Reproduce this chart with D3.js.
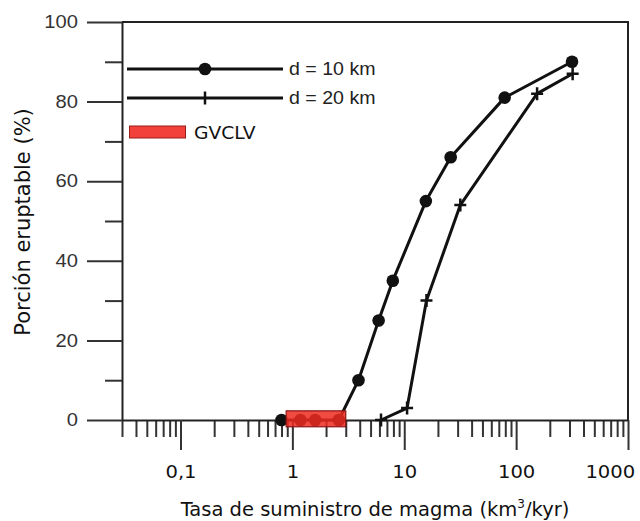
<!DOCTYPE html>
<html>
<head>
<meta charset="utf-8">
<script src="https://cdn.jsdelivr.net/npm/d3@7/dist/d3.min.js"></script>
<style>
  html, body { margin: 0; padding: 0; background: #fff; }
  svg { display: block; }
</style>
</head>
<body>
<svg id="chart" width="640" height="521"></svg>
<script>
// Eruptable fraction vs. magma supply rate, for two intrusion depths
const rate10 = [0.8, 1.18, 1.6, 2.6, 3.9, 5.9, 7.9, 15.6, 26, 79, 316];
const pct10  = [0, 0, 0, 0, 10, 25, 35, 55, 66, 81, 90];
const rate20 = [6.2, 10.6, 15.8, 31.7, 154, 320];
const pct20  = [0, 3, 30, 54, 82, 87];

// GVCLV supply-rate range (x) and its band height (y)
const gvclvRate = [0.88, 3.0];
const gvclvPct  = [-1.7, 2.3];

const xMajorTicks = [0.1, 1, 10, 100, 1000];
const xMajorLabels = ["0,1", "1", "10", "100", "1000"];
const yMajorTicks = [0, 20, 40, 60, 80, 100];
const yMinorTicks = [10, 30, 50, 70, 90];
const legendLabels = ["d = 10 km", "d = 20 km", "GVCLV"];

const svg = d3.select("#chart");
const x = d3.scaleLog().domain([0.03, 1000]).range([122, 628]);
const y = d3.scaleLinear().domain([0, 100]).range([420, 22]);

const sansFont = "'DejaVu Sans', sans-serif";
const helvFont = "'Liberation Sans', Arial, sans-serif";
const wide = 1.12; // slightly widened lettering

// minor log ticks: 2..9 of each decade, plus the left edge
const xMinorTicks = [0.03];
[0.01, 0.1, 1, 10, 100].forEach(d => {
  for (let k = 2; k <= 9; k++) {
    const v = d * k;
    if (v > 0.03 && v < 1000) xMinorTicks.push(v);
  }
});

// x axis: minor ticks
svg.append("g")
  .attr("transform", `translate(0,${y(0)})`)
  .call(d3.axisBottom(x).tickValues(xMinorTicks).tickSize(17).tickSizeOuter(0).tickFormat(""))
  .call(g => g.select(".domain").remove())
  .call(g => g.selectAll("line").attr("stroke", "#333").attr("stroke-width", 2));

// x axis: major ticks with labels
svg.append("g")
  .attr("transform", `translate(0,${y(0)})`)
  .call(d3.axisBottom(x).tickValues(xMajorTicks).tickSize(30).tickSizeOuter(0)
        .tickFormat((d, i) => xMajorLabels[i]))
  .call(g => g.select(".domain").attr("stroke", "#222").attr("stroke-width", 2))
  .call(g => g.selectAll("line").attr("stroke", "#333").attr("stroke-width", 2))
  .call(g => g.selectAll("text")
    .attr("y", 58).attr("dy", 0)
    .attr("transform", `scale(${wide},1)`)
    .attr("font-family", sansFont).attr("font-size", 17.5).attr("fill", "#111"))
  // keep the last label inside the frame
  .call(g => g.selectAll("text").filter(d => d === 1000)
    .attr("text-anchor", "end").attr("x", 6));

// y axis: minor ticks
svg.append("g")
  .attr("transform", `translate(${x(0.03)},0)`)
  .call(d3.axisLeft(y).tickValues(yMinorTicks).tickSize(17).tickSizeOuter(0).tickFormat(""))
  .call(g => g.select(".domain").remove())
  .call(g => g.selectAll("line").attr("stroke", "#333").attr("stroke-width", 2));

// y axis: major ticks with labels
svg.append("g")
  .attr("transform", `translate(${x(0.03)},0)`)
  .call(d3.axisLeft(y).tickValues(yMajorTicks).tickSize(35).tickSizeOuter(0).tickPadding(9))
  .call(g => g.select(".domain").attr("stroke", "#222").attr("stroke-width", 2))
  .call(g => g.selectAll("line").attr("stroke", "#333").attr("stroke-width", 2))
  .call(g => g.selectAll("text")
    .attr("x", 0).attr("transform", `translate(-44,0) scale(${wide},1)`)
    .attr("font-family", helvFont).attr("font-size", 18).attr("fill", "#333"));

// frame: top and right edges
svg.append("path")
  .attr("d", `M${x(0.03)},${y(100)}H${x(1000)}V${y(0)}`)
  .attr("fill", "none").attr("stroke", "#222").attr("stroke-width", 2);

// axis titles
const xTitle = svg.append("text")
  .attr("x", (x(0.03) + x(1000)) / 2).attr("y", 516)
  .attr("text-anchor", "middle")
  .attr("font-family", sansFont).attr("font-size", 19.5).attr("fill", "#111");
xTitle.append("tspan").text("Tasa de suministro de magma (km");
xTitle.append("tspan").attr("dy", -8).attr("font-size", 12).text("3");
xTitle.append("tspan").attr("dy", 8).text("/kyr)");

svg.append("text")
  .attr("transform", `translate(30,222) rotate(-90)`)
  .attr("text-anchor", "middle")
  .attr("font-family", sansFont).attr("font-size", 21).attr("fill", "#111")
  .text("Porción eruptable (%)");

// series lines
const line = d3.line().x(d => x(d[0])).y(d => y(d[1]));
const pts10 = rate10.map((r, i) => [r, pct10[i]]);
const pts20 = rate20.map((r, i) => [r, pct20[i]]);

svg.append("path").datum(pts10).attr("d", line)
  .attr("fill", "none").attr("stroke", "#111").attr("stroke-width", 3).attr("stroke-linejoin", "round");
svg.append("path").datum(pts20).attr("d", line)
  .attr("fill", "none").attr("stroke", "#111").attr("stroke-width", 3).attr("stroke-linejoin", "round");

svg.append("g").selectAll("circle").data(pts10).join("circle")
  .attr("cx", d => x(d[0])).attr("cy", d => y(d[1])).attr("r", 6.3).attr("fill", "#111");

const crossPath = "M-6,0H6M0,-6.5V6.5";
svg.append("g").selectAll("path").data(pts20).join("path")
  .attr("transform", d => `translate(${x(d[0])},${y(d[1])})`)
  .attr("d", crossPath).attr("stroke", "#111").attr("stroke-width", 2.5).attr("fill", "none");

// GVCLV band, drawn over the curve
svg.append("rect")
  .attr("x", x(gvclvRate[0])).attr("width", x(gvclvRate[1]) - x(gvclvRate[0]))
  .attr("y", y(gvclvPct[1])).attr("height", y(gvclvPct[0]) - y(gvclvPct[1]))
  .attr("fill", "#ee2a22").attr("fill-opacity", 0.85)
  .attr("stroke", "#8a1512").attr("stroke-width", 1.2);

// legend
const leg = svg.append("g");
leg.append("line").attr("x1", 127).attr("x2", 283).attr("y1", 69).attr("y2", 69)
  .attr("stroke", "#111").attr("stroke-width", 3);
leg.append("circle").attr("cx", 205).attr("cy", 69).attr("r", 6.3).attr("fill", "#111");
leg.append("line").attr("x1", 127).attr("x2", 283).attr("y1", 98).attr("y2", 98)
  .attr("stroke", "#111").attr("stroke-width", 3);
leg.append("path").attr("transform", "translate(205,98)").attr("d", "M0,-6.5V6.5")
  .attr("stroke", "#111").attr("stroke-width", 2.5);
leg.append("text").attr("transform", `translate(289,75) scale(${wide},1)`).text(legendLabels[0])
  .attr("font-family", helvFont).attr("font-size", 17.5).attr("fill", "#222");
leg.append("text").attr("transform", `translate(289,104) scale(${wide},1)`).text(legendLabels[1])
  .attr("font-family", helvFont).attr("font-size", 17.5).attr("fill", "#222");
leg.append("rect").attr("x", 129.5).attr("y", 126).attr("width", 56).attr("height", 12)
  .attr("fill", "#f2403a").attr("stroke", "#9a1c18").attr("stroke-width", 1);
leg.append("text").attr("transform", `translate(194,138.5) scale(1.1,1)`).text(legendLabels[2])
  .attr("font-family", sansFont).attr("font-size", 17).attr("fill", "#111");
</script>
</body>
</html>
